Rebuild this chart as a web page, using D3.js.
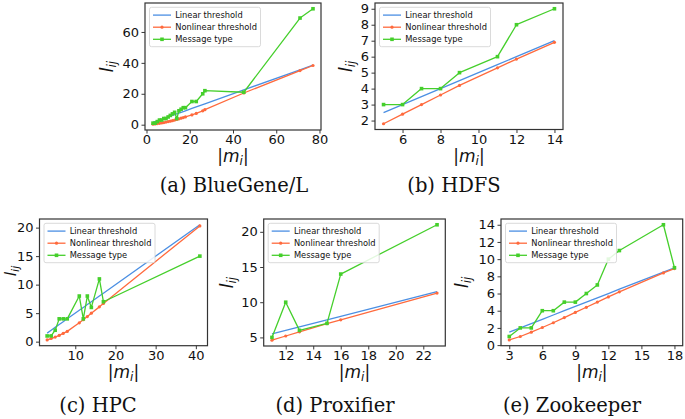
<!DOCTYPE html>
<html><head><meta charset="utf-8">
<script src="https://cdn.jsdelivr.net/npm/d3@7"></script>
<style>
body{margin:0;background:#fff}
svg{display:block}
</style>
</head><body><svg id="c" width="685" height="419" font-family="DejaVu Sans"></svg>
<script>
const seriesNames = ["Linear threshold", "Nonlinear threshold", "Message type"];
const captions = ["(a) BlueGene/L", "(b) HDFS", "(c) HPC", "(d) Proxifier", "(e) Zookeeper"];

// (a) BlueGene/L
const bglX = [3,4,5,6,7,8,9,10,11,12,13,14,15,16,17,18,21,23,26,27,45,71,77];
const bglLinear = [1.5,2,2.5,3,3.5,4,4.5,5,5.5,6,6.5,7,7.5,8,8.5,9,10.5,11.5,13,13.5,22.5,35.5,38.5];
const bglNonlinear = [0.3,0.5,0.7,0.9,1.1,1.4,1.7,2.0,2.3,2.6,3.0,3.4,3.8,4.2,4.6,5.0,6.3,7.3,9.0,9.7,20.5,35,38.3];
const bglMessage = [1,1,2,3,3,4,4,5,6,7,8,4,9,10,11,11,15,15,20,22,21,69,75];

// (b) HDFS
const hdfsX = [5,6,7,8,9,11,12,14];
const hdfsLinear = [2.5,3,3.5,4,4.5,5.5,6,7];
const hdfsNonlinear = [1.8,2.4,3.0,3.6,4.2,5.3,5.85,6.9];
const hdfsMessage = [3,3,4,4,5,6,8,9];

// (c) HPC
const hpcX = [3,4,5,6,7,8,11,12,13,14,16,17,41];
const hpcLinear = [1.5,2,2.5,3,3.5,4,5.5,6,6.5,7,8,8.5,20.5];
const hpcNonlinear = [0.3,0.55,0.8,1.1,1.45,1.8,3.3,3.85,4.4,5.0,6.1,6.7,20.3];
const hpcMessage = [1,1,2,4,4,4,8,4,8,6,11,7,15];

// (d) Proxifier
const proxX = [11,12,13,15,16,23];
const proxLinear = [5.5,6,6.5,7.5,8,11.5];
const proxNonlinear = [4.6,5.2,5.8,6.95,7.5,11.3];
const proxMessage = [5,10,6,7,14,21];

// (e) Zookeeper
const zkX = [3,4,5,6,7,8,9,10,11,12,13,17,18];
const zkLinear = [1.5,2,2.5,3,3.5,4,4.5,5,5.5,6,6.5,8.5,9];
const zkNonlinear = [0.6,1.0,1.5,2.05,2.6,3.2,3.8,4.4,5.0,5.6,6.2,8.4,8.9];
const zkMessage = [1,2,2,4,4,5,5,6,7,10,11,14,9];

const xTicks = [[0,20,40,60,80],[6,8,10,12,14],[10,20,30,40],[12,14,16,18,20,22],[3,6,9,12,15,18]];
const yTicks = [[0,20,40,60],[2,3,4,5,6,7,8,9],[0,5,10,15,20],[5,10,15,20],[0,2,4,6,8,10,12,14]];

const panels = [
  {x: bglX, s: [bglLinear, bglNonlinear, bglMessage]},
  {x: hdfsX, s: [hdfsLinear, hdfsNonlinear, hdfsMessage]},
  {x: hpcX, s: [hpcLinear, hpcNonlinear, hpcMessage]},
  {x: proxX, s: [proxLinear, proxNonlinear, proxMessage]},
  {x: zkX, s: [zkLinear, zkNonlinear, zkMessage]}
];

const layout = [
  {x0:145, x1:321, y0:3, y1:130, ylX:113, ylY:null, ylF:17, capX:234, xlY:161.5, capY:192},
  {x0:375, x1:563, y0:3, y1:129.5, ylX:352, ylY:null, ylF:17, capX:454, xlY:161.5, capY:192},
  {x0:39.5, x1:207.5, y0:219, y1:345.7, ylX:15.5, ylY:271, ylF:16, capX:98, xlY:377.5, capY:412},
  {x0:263.7, x1:445.3, y0:219, y1:346, ylX:233, ylY:null, ylF:17, capX:335, xlY:377.5, capY:412},
  {x0:501, x1:682.7, y0:219, y1:345.7, ylX:468, ylY:null, ylF:17, capX:572, xlY:377.5, capY:412}
];

const colors = ["#4b8fe3", "#ff6a3d", "#45cf2b"];
const svg = d3.select("#c");

function pad(ext){ const r = ext[1]-ext[0]; return [ext[0]-0.05*r, ext[1]+0.05*r]; }

panels.forEach((p, i) => {
  const L = layout[i];
  const g = svg.append("g");
  const x = d3.scaleLinear().domain(pad(d3.extent(p.x))).range([L.x0, L.x1]);
  const allY = p.s.flat();
  const y = d3.scaleLinear().domain(pad(d3.extent(allY))).range([L.y1, L.y0]);

  // axes
  const xa = g.append("g").attr("transform", `translate(0,${L.y1})`)
    .call(d3.axisBottom(x).tickValues(xTicks[i]).tickSize(3.5).tickPadding(1.5));
  const ya = g.append("g").attr("transform", `translate(${L.x0},0)`)
    .call(d3.axisLeft(y).tickValues(yTicks[i]).tickSize(3.5).tickPadding(2.5));
  [xa, ya].forEach(a => {
    a.attr("font-family", null).attr("font-size", null);
    a.select(".domain").remove();
    a.selectAll(".tick line").attr("stroke", "#222").attr("stroke-width", 0.9);
    a.selectAll(".tick text").attr("font-family", "DejaVu Sans").attr("font-size", 13).attr("fill", "#111");
  });

  // series
  const line = d3.line().x((d, k) => x(p.x[k])).y(d => y(d));
  p.s.forEach((vals, si) => {
    g.append("path").attr("d", line(vals)).attr("fill", "none")
      .attr("stroke", colors[si]).attr("stroke-width", 1.3).attr("stroke-linejoin", "round");
    if (si === 1) {
      g.selectAll(null).data(vals).join("circle")
        .attr("cx", (d, k) => x(p.x[k])).attr("cy", d => y(d)).attr("r", 1.6).attr("fill", colors[si]);
    } else if (si === 2) {
      g.selectAll(null).data(vals).join("rect")
        .attr("x", (d, k) => x(p.x[k]) - 1.8).attr("y", d => y(d) - 1.8)
        .attr("width", 3.6).attr("height", 3.6).attr("fill", colors[si]);
    }
  });

  // frame
  g.append("rect").attr("x", L.x0).attr("y", L.y0).attr("width", L.x1 - L.x0).attr("height", L.y1 - L.y0)
    .attr("fill", "none").attr("stroke", "#333").attr("stroke-width", 1.2);

  // legend
  const lx = L.x0 + 4.5, ly = L.y0 + 4.3;
  const lg = g.append("g").attr("transform", `translate(${lx},${ly})`);
  lg.append("rect").attr("width", 111).attr("height", 39.4).attr("rx", 2)
    .attr("fill", "#fff").attr("fill-opacity", 0.85).attr("stroke", "#d0d0d0").attr("stroke-width", 0.8);
  seriesNames.forEach((nm, si) => {
    const cy = 7.8 + si * 12.1;
    lg.append("line").attr("x1", 3.5).attr("x2", 21.5).attr("y1", cy).attr("y2", cy)
      .attr("stroke", colors[si]).attr("stroke-width", 1.3);
    if (si === 1) lg.append("circle").attr("cx", 12.5).attr("cy", cy).attr("r", 1.6).attr("fill", colors[si]);
    if (si === 2) lg.append("rect").attr("x", 10.7).attr("y", cy - 1.8).attr("width", 3.6).attr("height", 3.6).attr("fill", colors[si]);
    lg.append("text").attr("x", 25.7).attr("y", cy + 3).attr("font-family", "DejaVu Sans")
      .attr("font-size", 8.3).attr("fill", "#111").text(nm);
  });

  // x label |m_i|
  const xl = g.append("text").attr("x", (L.x0 + L.x1) / 2).attr("y", L.xlY)
    .attr("text-anchor", "middle").attr("font-family", "DejaVu Sans").attr("font-size", 17).attr("fill", "#111");
  xl.append("tspan").text("|");
  xl.append("tspan").attr("font-style", "italic").text("m");
  xl.append("tspan").attr("font-style", "italic").attr("font-size", 12).attr("dy", 3.5).text("i");
  xl.append("tspan").attr("dy", -3.5).text("|");

  // y label l_ij
  const cyl = L.ylY != null ? L.ylY : (L.y0 + L.y1) / 2;
  const yl = g.append("text").attr("transform", `translate(${L.ylX},${cyl}) rotate(-90)`)
    .attr("text-anchor", "middle").attr("font-family", "DejaVu Sans").attr("font-size", L.ylF).attr("fill", "#111");
  yl.append("tspan").attr("font-style", "italic").text("l");
  yl.append("tspan").attr("font-style", "italic").attr("font-size", L.ylF * 0.7).attr("dy", L.ylF * 0.2).text("ij");

  // caption
  g.append("text").attr("x", L.capX).attr("y", L.capY).attr("text-anchor", "middle")
    .attr("font-family", "DejaVu Serif").attr("font-size", 19.5).attr("fill", "#111").text(captions[i]);
});
</script>
</body></html>
